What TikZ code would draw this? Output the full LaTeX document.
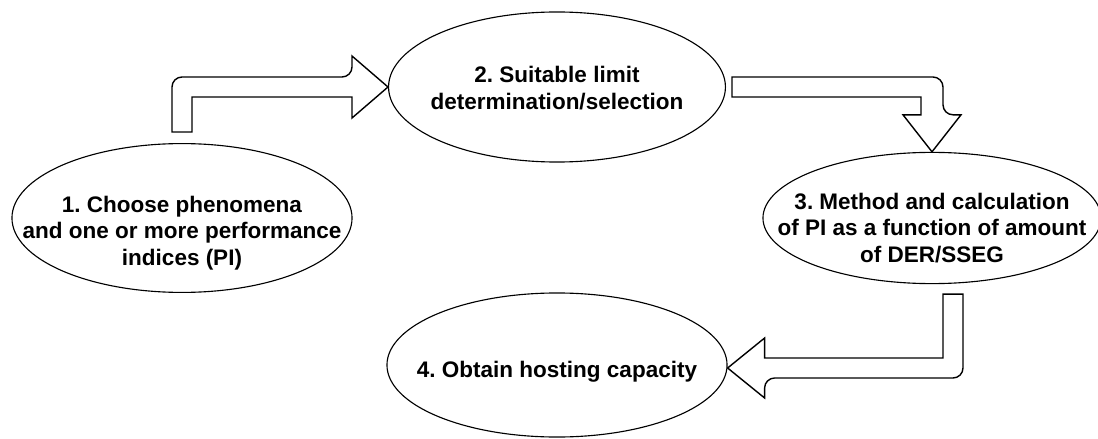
\documentclass[tikz,border=0pt]{standalone}
\usepackage{fontspec}
\setmainfont{Liberation Sans}
\usetikzlibrary{calc,shapes.geometric}

\tikzset{
	stage/.style={draw, ellipse, line width=0.8pt, inner sep=0pt},
	stagetext/.style={align=center, inner sep=0pt,
		font=\fontsize{16}{19}\selectfont\bfseries\frenchspacing},
	bigarrow/.style={draw, line width=1pt, fill=white}
}

\begin{document}
\begin{tikzpicture}[x=0.025cm, y=-0.025cm]
		%%%%% START %%%%%
		
		\useasboundingbox (0, 0) rectangle (1098, 439);
		
		\node[stage, minimum width=8.5cm, minimum height=3.72cm] (e1) at (182, 218) {};
		\node[stage, minimum width=8.42cm, minimum height=3.75cm] (e2) at (557, 87) {};
		\node[stage, minimum width=8.45cm, minimum height=3.28cm] (e3) at (932, 218) {};
		\node[stage, minimum width=8.5cm, minimum height=3.6cm] (e4) at (557, 365) {};
		
		\node[stagetext] (t1) at ($(e1)+(0, 15)$) {1. Choose phenomena\\and one or more performance\\indices (PI)};
		\node[stagetext] (t2) at ($(e2)+(0, 1)$) {2. Suitable limit\\determination/selection};
		\node[stagetext] (t3) at ($(e3)+(0, 10)$) {3. Method and calculation\\of PI as a function of amount\\of DER/SSEG};
		\node[stagetext] (t4) at ($(e4)+(0, 7)$) {4. Obtain hosting capacity};
		
		\coordinate (s1) at ($(e1.north)+(0, -11)$);
		\coordinate (s2) at ($(e2.east)+(6, 0)$);
		\coordinate (s3) at ($(e3.south)+(21, 10)$);
		
		\draw[bigarrow] ($(s1)+(-10, 0)$) [rounded corners=0.25cm] |- ($(e2.west)+(-36, -10)$) [sharp corners] -- ++(0, -21) -- (e2.west) -- ++(-36, 31) -- ++(0, -21) -| ($(s1)+(10, 0)$) -- cycle;
		
		\draw[bigarrow] ($(s2)+(0, -10)$) [rounded corners=0.25cm] -| ($(e3.north)+(11, -37)$) [sharp corners] -- ++(18, 0) -- (e3.north) -- ++(-29, -37) -- ++(18, 0) |- ($(s2)+(0, 10)$) -- cycle;
		
		\draw[bigarrow] ($(s3)+(10, 0)$) [rounded corners=0.25cm] |- ($(e4.east)+(37, 13)$) [sharp corners] -- ++(0, 20) -- ($(e4.east)+(0, 3)$) -- ++(37, -30) -- ++(0, 20) -| ($(s3)+(-10, 0)$) -- cycle;
		
		%%%%% END %%%%%
	\end{tikzpicture}
\end{document}
